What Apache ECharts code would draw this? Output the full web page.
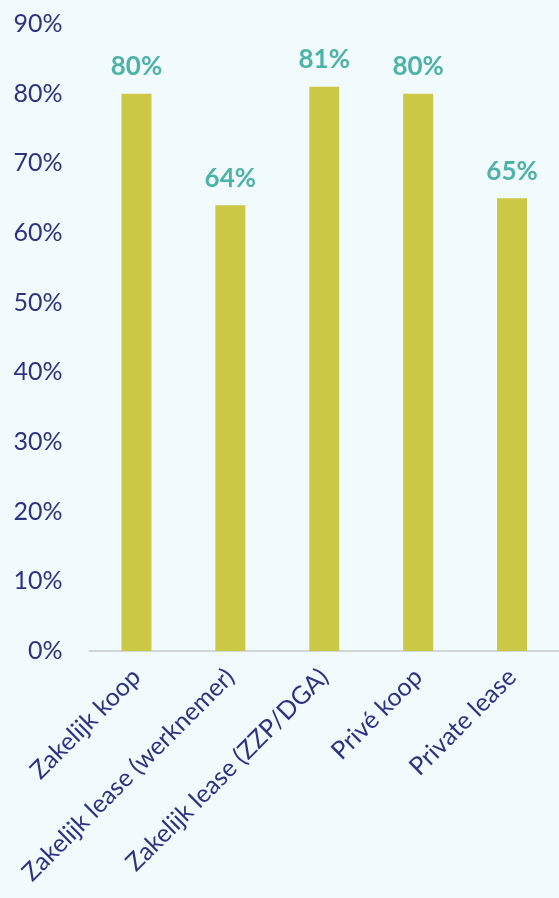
<!DOCTYPE html>
<html>
<head>
<meta charset="utf-8">
<script src="https://cdn.jsdelivr.net/npm/echarts@6/dist/echarts.min.js"></script>
<style>
  html, body { margin: 0; padding: 0; background: #f1fafd; }
  #chart { width: 559px; height: 898px; }
</style>
</head>
<body>
<div id="chart"></div>
<script>
// Share per category (percent)
const categories = ['Zakelijk koop', 'Zakelijk lease (werknemer)', 'Zakelijk lease (ZZP/DGA)', 'Privé koop', 'Private lease'];
const values = [80, 64, 81, 80, 65];
const yTicks = [0, 10, 20, 30, 40, 50, 60, 70, 80, 90];

const chart = echarts.init(document.getElementById('chart'));
chart.setOption({
  backgroundColor: '#f1fafd',
  animation: false,
  grid: { left: 89.5, right: -6, top: 24, bottom: 247, containLabel: false },
  xAxis: {
    type: 'category',
    data: categories,
    axisLine: { show: true, lineStyle: { color: '#d3d6d6', width: 2 } },
    axisTick: { show: false },
    axisLabel: {
      rotate: 45,
      interval: 0,
      margin: 22,
      color: '#2e3283',
      fontFamily: 'Lato',
      fontSize: 25
    }
  },
  yAxis: {
    type: 'value',
    min: yTicks[0],
    max: yTicks[yTicks.length - 1],
    interval: 10,
    splitLine: { show: false },
    axisLine: { show: false },
    axisTick: { show: false },
    axisLabel: {
      margin: 27,
      color: '#2e3283',
      fontFamily: 'Lato',
      fontSize: 25,
      formatter: v => v + '%'
    }
  },
  series: [{
    type: 'bar',
    data: values,
    barWidth: 30,
    itemStyle: { color: '#cbc845' },
    label: {
      show: true,
      position: 'top',
      distance: 14,
      color: '#4db3a8',
      fontFamily: 'Lato',
      fontWeight: 'bold',
      fontSize: 26,
      formatter: p => p.value + '%'
    }
  }]
});
</script>
</body>
</html>
